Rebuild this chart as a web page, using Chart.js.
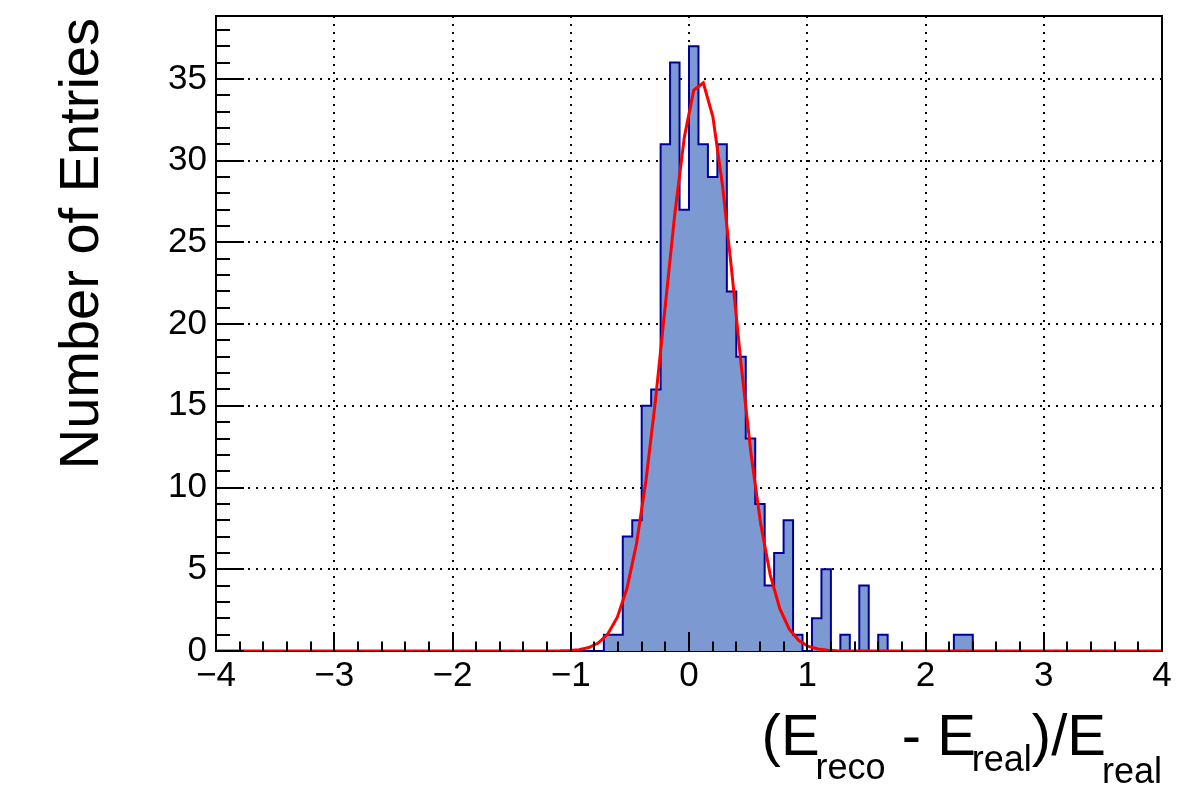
<!DOCTYPE html>
<html>
<head>
<meta charset="utf-8">
<script src="https://cdn.jsdelivr.net/npm/chart.js@4.4.1/dist/chart.umd.min.js"></script>
<style>
  html, body { margin:0; padding:0; background:#fff; }
  #wrap { width:1182px; height:798px; position:relative; }
</style>
</head>
<body>
<div id="wrap"><canvas id="c" width="1182" height="798"></canvas></div>
<script>
// ============ Data ============
const binLow = -4;
const binWidth = 0.08;
// entries per bin, 100 bins from -4 to 4
const counts = [
  0, 0, 0, 0, 0, 0, 0, 0, 0, 0,
  0, 0, 0, 0, 0, 0, 0, 0, 0, 0,
  0, 0, 0, 0, 0, 0, 0, 0, 0, 0,
  0, 0, 0, 0, 0, 0, 0, 0, 0, 0,
  0, 1, 1, 7, 8, 15, 16, 31, 36, 27,
  37, 31, 29, 31, 22, 18, 13, 9, 4, 6,
  8, 1, 0, 2, 5, 0, 1, 0, 4, 0,
  1, 0, 0, 0, 0, 0, 0, 0, 1, 1,
  0, 0, 0, 0, 0, 0, 0, 0, 0, 0,
  0, 0, 0, 0, 0, 0, 0, 0, 0, 0
];
// gaussian fit curve
const fitX = [-4, -1.172, -1.091, -1.010, -0.929, -0.848, -0.768, -0.687, -0.606, -0.525, -0.444,
  -0.364, -0.283, -0.202, -0.121, -0.040, 0.040, 0.121, 0.202, 0.283, 0.364,
  0.444, 0.525, 0.606, 0.687, 0.768, 0.848, 0.929, 1.010, 1.091, 1.172, 1.253, 4];
const fitY = [0, 0.003, 0.01, 0.03, 0.08, 0.21, 0.49, 1.04, 2.07, 3.82, 6.56,
  10.42, 15.37, 21.02, 26.68, 31.41, 34.31, 34.76, 32.68, 28.50, 23.06,
  17.31, 12.04, 7.78, 4.66, 2.59, 1.34, 0.64, 0.28, 0.12, 0.05, 0.02, 0];

const xTicks = [-4, -3, -2, -1, 0, 1, 2, 3, 4];
const yTicks = [0, 5, 10, 15, 20, 25, 30, 35];
const X_MIN = -4, X_MAX = 4, Y_MIN = 0, Y_MAX = 38.85;

const yTitle = "Number of Entries";
const xTitleParts = [
  { t: "(E", sub: false },
  { t: "reco", sub: true, dy: 24 },
  { t: " - E", sub: false },
  { t: "real", sub: true, dy: 16 },
  { t: ")/E", sub: false },
  { t: "real", sub: true, dy: 28 }
];

// ============ Style ============
const FONT = "'Liberation Sans', Arial, Helvetica, sans-serif";
const FILL = "#7d99d1";
const LINE = "#000099";
const FIT = "#ff0000";

// histogram outline: value holds from each left edge to the next
const histPts = counts.map((v, i) => ({ x: binLow + i * binWidth, y: v }));
histPts.push({ x: binLow + counts.length * binWidth, y: counts[counts.length - 1] });
const fitPts = fitX.map((x, i) => ({ x, y: fitY[i] }));

const fmt = (v) => v < 0 ? "\u2212" + Math.abs(v) : String(v);

// ============ Plugins ============
const frameAndTicks = {
  id: "frameAndTicks",
  beforeDatasetsDraw(chart) {
    const { ctx, chartArea: a } = chart;
    ctx.save();
    ctx.strokeStyle = "#000";
    ctx.lineWidth = 2;
    ctx.strokeRect(a.left, a.top, a.right - a.left, a.bottom - a.top);
    ctx.restore();
  },
  afterDatasetsDraw(chart) {
    const { ctx, chartArea: a, scales } = chart;
    const xs = scales.x, ys = scales.y;
    ctx.save();
    ctx.strokeStyle = "#000";
    ctx.lineWidth = 2;
    ctx.beginPath();
    // x ticks (inside)
    for (let i = 0; i <= 40; i++) {
      const v = X_MIN + i * 0.2;
      const px = Math.round(xs.getPixelForValue(v));
      const len = (i % 5 === 0) ? 19 : 9.5;
      ctx.moveTo(px, a.bottom);
      ctx.lineTo(px, a.bottom - len);
    }
    // y ticks (inside)
    for (let v = 0; v <= Y_MAX; v++) {
      const py = Math.round(ys.getPixelForValue(v));
      const len = (v % 5 === 0) ? 28 : 14;
      ctx.moveTo(a.left, py);
      ctx.lineTo(a.left + len, py);
    }
    ctx.stroke();
    ctx.restore();
  },
  afterDraw(chart) {
    const { ctx, chartArea: a } = chart;
    ctx.save();
    ctx.fillStyle = "#000";
    ctx.textBaseline = "alphabetic";

    // y title, right aligned to the top of the axis
    ctx.save();
    ctx.translate(98, a.top + 2);
    ctx.rotate(-Math.PI / 2);
    ctx.textAlign = "right";
    ctx.font = "56px " + FONT;
    ctx.fillText(yTitle, 0, 0);
    ctx.restore();

    // x title with subscripts, right aligned to the end of the axis
    const mainF = "58px " + FONT, subF = "36px " + FONT;
    const kern = -4;
    let total = 0;
    const widths = xTitleParts.map(p => {
      ctx.font = p.sub ? subF : mainF;
      const w = ctx.measureText(p.t).width;
      total += w + (p.sub ? kern : 0);
      return w;
    });
    let x = a.right - total;
    const base = a.bottom + 104;
    ctx.textAlign = "left";
    xTitleParts.forEach((p, i) => {
      ctx.font = p.sub ? subF : mainF;
      if (p.sub) x += kern;
      ctx.fillText(p.t, x, base + (p.sub ? p.dy : 0));
      x += widths[i];
    });
    ctx.restore();
  }
};

// ============ Chart ============
new Chart(document.getElementById("c"), {
  type: "line",
  data: {
    datasets: [
      {
        label: "hist",
        data: histPts,
        order: 2,
        stepped: "before",
        fill: "origin",
        backgroundColor: FILL,
        borderColor: LINE,
        borderWidth: 2,
        pointRadius: 0,
        tension: 0
      },
      {
        label: "fit",
        data: fitPts,
        order: 1,
        fill: false,
        borderColor: FIT,
        borderWidth: 3,
        pointRadius: 0,
        tension: 0
      }
    ]
  },
  options: {
    responsive: false,
    animation: false,
    events: [],
    layout: { padding: { top: 16, right: 20, left: 0, bottom: 0 } },
    plugins: { legend: { display: false }, tooltip: { enabled: false } },
    scales: {
      x: {
        type: "linear",
        min: X_MIN, max: X_MAX,
        afterBuildTicks: (s) => { s.ticks = xTicks.map(v => ({ value: v })); },
        afterFit: (s) => { s.height = 147; s.paddingLeft = 0; s.paddingRight = 0; },
        ticks: {
          color: "#000",
          padding: 4,
          maxRotation: 0,
          font: { family: FONT, size: 35 },
          callback: (v) => fmt(v)
        },
        grid: { color: "#000", lineWidth: 2, drawTicks: false },
        border: { display: false, dash: [2, 6] }
      },
      y: {
        type: "linear",
        min: Y_MIN, max: Y_MAX,
        afterBuildTicks: (s) => { s.ticks = yTicks.map(v => ({ value: v })); },
        afterFit: (s) => { s.width = 216; s.paddingTop = 0; s.paddingBottom = 0; },
        ticks: {
          color: "#000",
          padding: 9,
          font: { family: FONT, size: 35 },
          callback: (v) => fmt(v)
        },
        grid: { color: "#000", lineWidth: 2, drawTicks: false },
        border: { display: false, dash: [2, 6] }
      }
    }
  },
  plugins: [frameAndTicks]
});
</script>
</body>
</html>
